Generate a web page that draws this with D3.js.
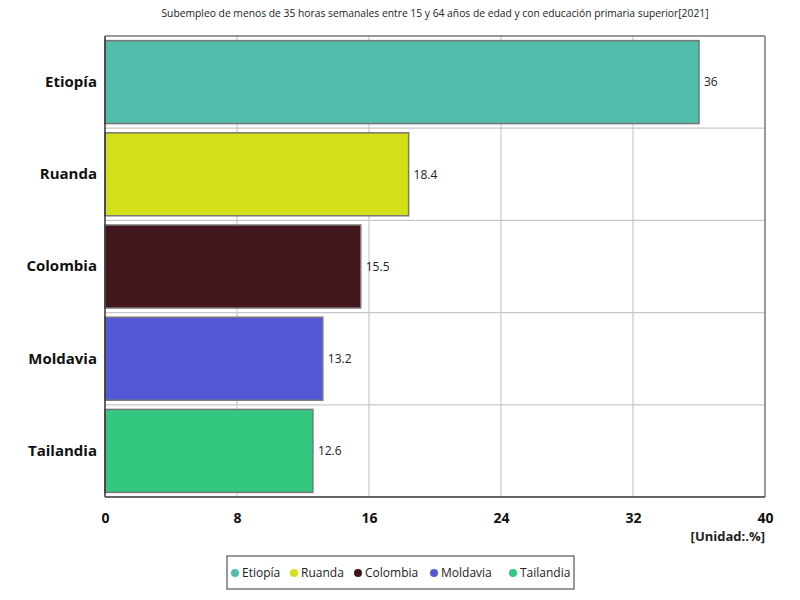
<!DOCTYPE html>
<html>
<head>
<meta charset="utf-8">
<script src="https://cdn.jsdelivr.net/npm/d3@7"></script>
<style>
body { margin: 0; background: #fff; }
text { font-family: "Open Sans", "Noto Sans", sans-serif; }
</style>
</head>
<body>
<script>
var paises = ["Etiopía", "Ruanda", "Colombia", "Moldavia", "Tailandia"];
var valores = [36, 18.4, 15.5, 13.2, 12.6];
var colores = ["#50bcaa", "#d4e017", "#43161d", "#5558d6", "#34c77f"];
var ticksX = [0, 8, 16, 24, 32, 40];
var titulo = "Subempleo de menos de 35 horas semanales entre 15 y 64 años de edad y con educación primaria superior[2021]";

var width = 800, height = 600;
var plotLeft = 105, plotRight = 765, plotTop = 36, plotBottom = 497;

var svg = d3.select("body").append("svg")
    .attr("width", width)
    .attr("height", height);

var xScale = d3.scaleLinear().domain([0, 40]).range([plotLeft, plotRight]);
var yScale = d3.scaleBand().domain(paises).range([plotTop, plotBottom]).paddingInner(0.1).paddingOuter(0.05);

// titulo
svg.append("text")
    .attr("x", 435).attr("y", 17)
    .attr("text-anchor", "middle")
    .attr("font-size", 10.3)
    .attr("fill", "#222")
    .text(titulo);

// rejilla vertical
svg.selectAll(".gx").data(ticksX.slice(1, -1)).enter()
    .append("line")
    .attr("x1", function(d) { return xScale(d); })
    .attr("x2", function(d) { return xScale(d); })
    .attr("y1", plotTop).attr("y2", plotBottom)
    .attr("stroke", "#c8c8c8").attr("stroke-width", 1.2);

// rejilla horizontal entre barras
var bordes = paises.slice(1).map(function(p) { return yScale(p) - yScale.step() * yScale.paddingInner() / 2; });
svg.selectAll(".gy").data(bordes).enter()
    .append("line")
    .attr("x1", plotLeft).attr("x2", plotRight)
    .attr("y1", function(d) { return d; })
    .attr("y2", function(d) { return d; })
    .attr("stroke", "#c8c8c8").attr("stroke-width", 1.2);

// marco
svg.append("line").attr("x1", plotLeft).attr("x2", plotRight).attr("y1", plotTop).attr("y2", plotTop)
    .attr("stroke", "#777").attr("stroke-width", 1.5);
svg.append("line").attr("x1", plotRight).attr("x2", plotRight).attr("y1", plotTop).attr("y2", plotBottom)
    .attr("stroke", "#777").attr("stroke-width", 1.5);

// barras
svg.selectAll(".bar").data(valores).enter()
    .append("rect")
    .attr("x", xScale(0))
    .attr("y", function(d, i) { return yScale(paises[i]); })
    .attr("width", function(d) { return xScale(d) - xScale(0); })
    .attr("height", yScale.bandwidth())
    .attr("fill", function(d, i) { return colores[i]; })
    .attr("stroke", "#777").attr("stroke-width", 1.5);

// etiquetas de valor
svg.selectAll(".val").data(valores).enter()
    .append("text")
    .attr("x", function(d) { return xScale(d) + 5; })
    .attr("y", function(d, i) { return yScale(paises[i]) + yScale.bandwidth() / 2; })
    .attr("dy", "0.35em")
    .attr("font-size", 12)
    .attr("fill", "#222")
    .text(function(d) { return d; });

// ejes
var yAxis = d3.axisLeft(yScale).tickSize(0).tickPadding(8);
var gy = svg.append("g").attr("transform", "translate(" + plotLeft + ",0)").call(yAxis);
gy.select(".domain").attr("stroke", "#333").attr("stroke-width", 1.5).attr("d", "M0," + plotTop + "V" + plotBottom);
gy.selectAll("text").attr("font-size", 15).attr("font-weight", "bold").attr("fill", "#111")
    .style("font-family", "'Open Sans', 'Noto Sans', sans-serif");

var xAxis = d3.axisBottom(xScale).tickValues(ticksX).tickSize(0).tickPadding(16);
var gx = svg.append("g").attr("transform", "translate(0," + plotBottom + ")").call(xAxis);
gx.select(".domain").attr("stroke", "#333").attr("stroke-width", 1.5).attr("d", "M" + plotLeft + ",0H" + plotRight);
gx.selectAll("text").attr("font-size", 14).attr("font-weight", "bold").attr("fill", "#111")
    .style("font-family", "'Open Sans', 'Noto Sans', sans-serif");

svg.append("text")
    .attr("x", 765).attr("y", 541)
    .attr("text-anchor", "end")
    .attr("font-size", 13).attr("font-weight", "bold").attr("fill", "#222")
    .text("[Unidad:.%]");

// leyenda
var leyenda = svg.append("g");
leyenda.append("rect")
    .attr("x", 227).attr("y", 556).attr("width", 347).attr("height", 33)
    .attr("fill", "#fff").attr("stroke", "#555").attr("stroke-width", 1.2);
var posX = [235, 294, 358, 434, 513];
var items = leyenda.selectAll(".item").data(paises).enter()
    .append("g")
    .attr("transform", function(d, i) { return "translate(" + posX[i] + ",573)"; });
items.append("circle").attr("r", 4).attr("fill", function(d, i) { return colores[i]; });
items.append("text").attr("x", 7).attr("dy", "0.35em").attr("font-size", 12).attr("fill", "#222")
    .text(function(d) { return d; });
</script>
</body>
</html>
